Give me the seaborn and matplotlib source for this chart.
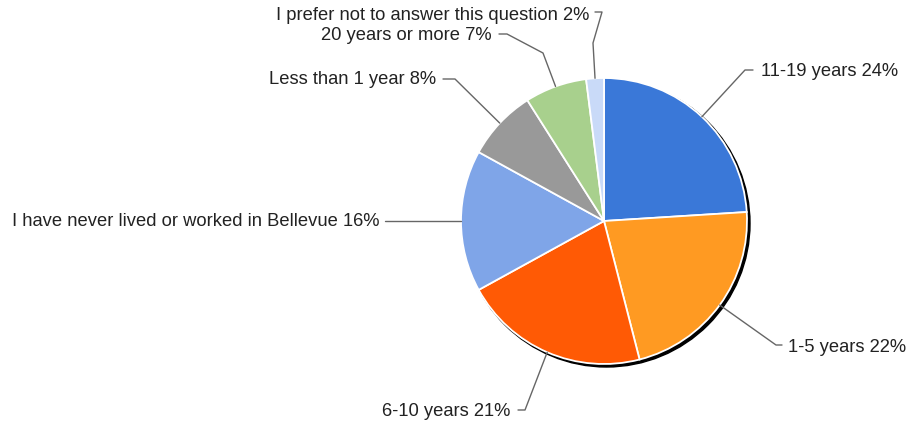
import matplotlib
matplotlib.use("Agg")
import matplotlib.pyplot as plt
import seaborn as sns
import numpy as np
from matplotlib.patches import Circle

categories = ["11-19 years", "1-5 years", "6-10 years",
              "I have never lived or worked in Bellevue",
              "Less than 1 year", "20 years or more",
              "I prefer not to answer this question"]
shares = [24, 22, 21, 16, 8, 7, 2]
colors = ["#3a78d8", "#ff9a22", "#ff5a05", "#7fa5e8", "#999999", "#a8d08d", "#c9daf8"]

# label layout in pixel coords (y from top): leader points after the wedge edge, text anchor
label_layout = [
    ([(745, 70), (753, 70)], (761, 72), "left"),
    ([(776, 345), (782, 345)], (788, 347), "left"),
    ([(525, 410), (518, 410)], (510, 411), "right"),
    ([(385, 221)], (380, 222), "right"),
    ([(455, 79), (443, 79)], (436, 80), "right"),
    ([(543, 53), (507, 34), (499, 34)], (492, 36), "right"),
    ([(593, 43), (602, 12), (595, 12)], (589, 15), "right"),
]

W, H = 910, 430
cx, cy, r = 604, 221, 143

sns.set_style("white")
plt.rcParams["font.family"] = ["Liberation Sans", "DejaVu Sans"]

fig = plt.figure(figsize=(W / 100, H / 100), dpi=100)
ax = fig.add_axes([0, 0, 1, 1])

# drop shadow
ax.add_patch(Circle((cx + 2.5, H - cy - 2.5), r + 0.5, color="black", zorder=0))

wedges, _ = ax.pie(shares, colors=colors, startangle=90, counterclock=False,
                   center=(cx, H - cy), radius=r,
                   wedgeprops=dict(edgecolor="white", linewidth=1.3))

for w, cat, val, (pts, tpos, ha) in zip(wedges, categories, shares, label_layout):
    mid = np.deg2rad((w.theta1 + w.theta2) / 2)
    xs = [cx + r * np.cos(mid)] + [p[0] for p in pts]
    ys = [H - cy + r * np.sin(mid)] + [H - p[1] for p in pts]
    ax.plot(xs, ys, color="#666666", lw=1, zorder=1)
    ax.text(tpos[0], H - tpos[1], f"{cat} {val}%", ha=ha, va="center",
            fontsize=13.2, color="#222222")

ax.set_xlim(0, W)
ax.set_ylim(0, H)
ax.set_aspect("equal")
ax.axis("off")

fig.savefig("out.png", dpi=100, facecolor="white")
